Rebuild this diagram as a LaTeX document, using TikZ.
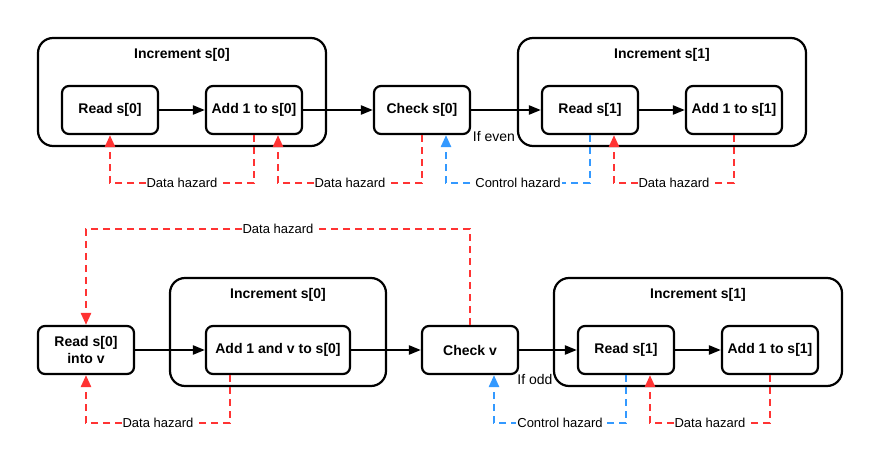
\documentclass[tikz,border=0pt]{standalone}
\usepackage{fontspec}
\setmainfont{Liberation Sans}
\usetikzlibrary{arrows.meta,calc}
\definecolor{hzred}{HTML}{FF3333}
\definecolor{hzblue}{HTML}{3399FF}
\begin{document}
\begin{tikzpicture}[x=1pt,y=-1pt,
  box/.style={draw,line width=2.2pt,rounded corners=7pt,minimum width=96pt,minimum height=48pt,align=center,inner sep=1pt,font=\fontsize{14}{17}\selectfont\bfseries},
  grp/.style={draw,line width=2.2pt,rounded corners=15pt,minimum height=108pt},
  gtitle/.style={font=\fontsize{14}{17}\selectfont\bfseries},
  cond/.style={font=\fontsize{14}{17}\selectfont},
  flow/.style={line width=2.2pt,-{Triangle[length=12pt,width=9pt]}},
  hz/.style={line width=2.5pt,dash pattern=on 7pt off 5pt,-{Triangle[length=12pt,width=10pt]}},
  hr/.style={hz,draw=hzred},
  hb/.style={hz,draw=hzblue},
  lbl/.style={fill=white,inner sep=1pt,text=black,font=\fontsize{13}{15}\selectfont}
]
\useasboundingbox (0,0) rectangle (879,468);

% ---- top row ----
\node[grp,minimum width=288pt] (g1) at (182,92) {};
\node[gtitle] (g1t) at (182,55) {Increment s[0]};
\node[grp,minimum width=288pt] (g2) at (662,92) {};
\node[gtitle] (g2t) at (662,55) {Increment s[1]};

\node[box] (read0) at (110,110) {Read s[0]};
\node[box] (add0) at (254,110) {Add 1 to s[0]};
\node[box] (chk0) at (422,110) {Check s[0]};
\node[box] (rs1) at (590,110) {Read s[1]};
\node[box] (as1) at (734,110) {Add 1 to s[1]};
\node[cond] (ifeven) at (494,137) {If even};

\draw[flow] (read0) -- (add0);
\draw[flow] (add0) -- (chk0);
\draw[flow] (chk0) -- (rs1);
\draw[flow] (rs1) -- (as1);

\draw[hr] (add0.south) -- ++(0,48) -| (read0.south) node[pos=0.25,lbl] {Data hazard};
\draw[hr] (chk0.south) -- ++(0,48) -| ([xshift=24pt]add0.south) node[pos=0.25,lbl] {Data hazard};
\draw[hb] (rs1.south) -- ++(0,48) -| ([xshift=24pt]chk0.south) node[pos=0.25,lbl] {Control hazard};
\draw[hr] (as1.south) -- ++(0,48) -| ([xshift=24pt]rs1.south) node[pos=0.25,lbl] {Data hazard};

% ---- bottom row ----
\node[grp,minimum width=216pt] (g3) at (278,332) {};
\node[gtitle] (g3t) at (278,295) {Increment s[0]};
\node[grp,minimum width=288pt] (g4) at (698,332) {};
\node[gtitle] (g4t) at (698,295) {Increment s[1]};

\node[box] (readv) at (86,350) {Read s[0]\\into v};
\node[box,minimum width=144pt] (addv) at (278,350) {Add 1 and v to s[0]};
\node[box] (chkv) at (470,350) {Check v};
\node[box] (rs1b) at (626,350) {Read s[1]};
\node[box] (as1b) at (770,350) {Add 1 to s[1]};
\node[cond] (ifodd) at (535,379) {If odd};

\draw[flow] (readv) -- (addv);
\draw[flow] (addv) -- (chkv);
\draw[flow] (chkv) -- (rs1b);
\draw[flow] (rs1b) -- (as1b);

\draw[hr] (chkv.north) -- ++(0,-96) -| (readv.north) node[pos=0.25,lbl] {Data hazard};
\draw[hr] ([xshift=-48pt]addv.south) -- ++(0,48) -| (readv.south) node[pos=0.25,lbl] {Data hazard};
\draw[hb] (rs1b.south) -- ++(0,48) -| ([xshift=24pt]chkv.south) node[pos=0.25,lbl] {Control hazard};
\draw[hr] (as1b.south) -- ++(0,48) -| ([xshift=24pt]rs1b.south) node[pos=0.25,lbl] {Data hazard};
\end{tikzpicture}
\end{document}
